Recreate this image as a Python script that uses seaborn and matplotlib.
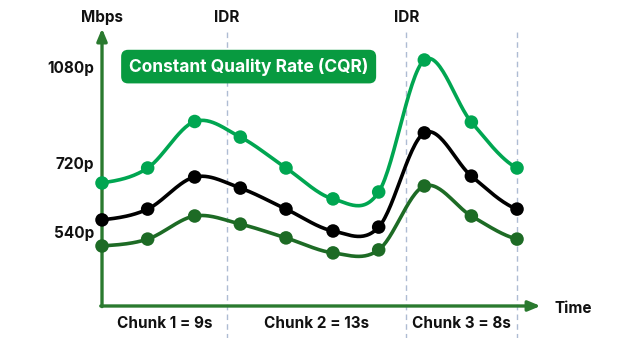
import numpy as np
import pandas as pd
import matplotlib
matplotlib.use("Agg")
import matplotlib.pyplot as plt
import seaborn as sns

# Sample times (seconds) and bitrate per rendition (Mbps)
time_s = [0, 3.3, 6.7, 10, 13.3, 16.7, 20, 23.3, 26.7, 30]
rate_1080 = [4.1, 4.6, 6.15, 5.63, 4.6, 3.57, 3.8, 8.2, 6.13, 4.6]
rate_720 = [2.87, 3.23, 4.3, 3.93, 3.23, 2.5, 2.63, 5.77, 4.33, 3.23]
rate_540 = [2.0, 2.23, 3.0, 2.73, 2.27, 1.77, 1.87, 4.0, 3.0, 2.23]

level_labels = ["1080p", "720p", "540p"]
level_values = [7.97, 4.77, 2.47]

idr_times = [9, 22, 30]
chunk_labels = ["Chunk 1 = 9s", "Chunk 2 = 13s", "Chunk 3 = 8s"]
chunk_centers = [4.5, 15.5, 26]

C_LIGHT = "#00a651"
C_DARK = "#1d6b25"
C_AXIS = "#2a7a2f"
C_BADGE = "#089a40"


def catmull_rom(x, y, n=30):
    x = np.asarray(x, float)
    y = np.asarray(y, float)
    px = np.concatenate([[2 * x[0] - x[1]], x, [2 * x[-1] - x[-2]]])
    py = np.concatenate([[y[0]], y, [y[-1]]])
    xs, ys = [], []
    for i in range(1, len(px) - 2):
        t = np.linspace(0, 1, n, endpoint=False)
        h00 = 2 * t**3 - 3 * t**2 + 1
        h10 = t**3 - 2 * t**2 + t
        h01 = -2 * t**3 + 3 * t**2
        h11 = t**3 - t**2
        mx0 = (px[i + 1] - px[i - 1]) / 2
        mx1 = (px[i + 2] - px[i]) / 2
        my0 = (py[i + 1] - py[i - 1]) / 2
        my1 = (py[i + 2] - py[i]) / 2
        xs.append(h00 * px[i] + h10 * mx0 + h01 * px[i + 1] + h11 * mx1)
        ys.append(h00 * py[i] + h10 * my0 + h01 * py[i + 1] + h11 * my1)
    xs.append([x[-1]])
    ys.append([y[-1]])
    return np.concatenate(xs), np.concatenate(ys)


sns.set_theme(style="white")
plt.rcParams["font.family"] = ["Inter", "DejaVu Sans"]

fig = plt.figure(figsize=(6.4, 3.38), dpi=100)
ax = fig.add_axes([0, 0, 1, 1])
ax.set_xlim(-7.374, 38.89)
ax.set_ylim(-1.067, 10.2)
ax.axis("off")

# IDR boundaries
for t in idr_times:
    ax.plot([t, t], [-1.2, 9.2], color="#aebcd3", lw=1, ls=(0, (4, 3)), zorder=1)

series = [(rate_1080, C_LIGHT), (rate_720, "#000000"), (rate_540, C_DARK)]
for vals, col in series:
    sx, sy = catmull_rom(time_s, vals)
    sns.lineplot(x=sx, y=sy, ax=ax, color=col, lw=2.6, sort=False,
                 estimator=None, zorder=3)
    sns.scatterplot(x=time_s, y=vals, ax=ax, color=col, s=95,
                    edgecolor="none", zorder=4)

# Axes with arrowheads
ax.annotate("", xy=(0, 9.25), xytext=(0, -0.02),
            arrowprops=dict(arrowstyle="-|>,head_length=0.6,head_width=0.25",
                            color=C_AXIS, lw=2.4, shrinkA=0, shrinkB=0), zorder=2)
ax.annotate("", xy=(31.7, 0), xytext=(-0.09, 0),
            arrowprops=dict(arrowstyle="-|>,head_length=0.6,head_width=0.25",
                            color=C_AXIS, lw=2.4, shrinkA=0, shrinkB=0), zorder=2)

tk = dict(fontsize=11, fontweight="bold", color="#111111")
ax.text(0, 9.62, "Mbps", ha="center", va="center", **tk)
for t in idr_times[:2]:
    ax.text(t, 9.62, "IDR", ha="center", va="center", **tk)
ax.annotate("Time", xy=(32.7, 0), xytext=(0, -1.5), textcoords="offset points",
            ha="left", va="center", **tk)
for lab, v in zip(level_labels, level_values):
    ax.annotate(lab, xy=(-0.55, v), xytext=(0, -1.5), textcoords="offset points",
                ha="right", va="center", **tk)
for lab, c in zip(chunk_labels, chunk_centers):
    ax.text(c, -0.57, lab, ha="center", va="center", **tk)

ax.text(10.6, 7.98, "Constant Quality Rate (CQR)", ha="center", va="center",
        fontsize=12.5, fontweight="bold", color="white", zorder=6,
        bbox=dict(boxstyle="round,pad=0.45,rounding_size=0.4",
                  fc=C_BADGE, ec="none"))

fig.savefig("out.png", dpi=100)
